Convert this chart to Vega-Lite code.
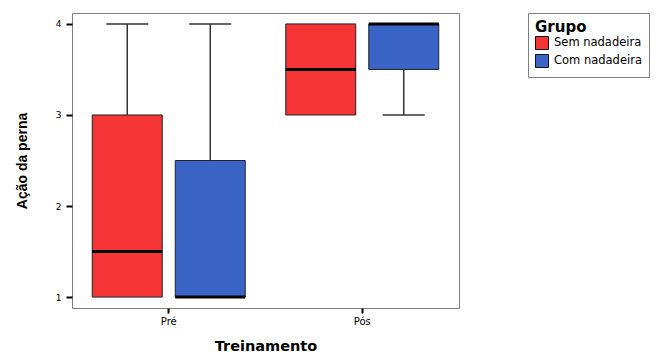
{
  "$schema": "https://vega.github.io/schema/vega-lite/v6.json",
  "width": 387,
  "height": 295,
  "autosize": {"type": "none"},
  "padding": {"left": 72, "top": 13, "right": 202, "bottom": 45},
  "background": "white",
  "data": {
    "values": [
      {"treinamento": "Pré", "grupo": "Sem nadadeira", "min": 1, "q1": 1, "median": 1.5, "q3": 3, "max": 4},
      {"treinamento": "Pré", "grupo": "Com nadadeira", "min": 1, "q1": 1, "median": 1, "q3": 2.5, "max": 4},
      {"treinamento": "Pós", "grupo": "Sem nadadeira", "min": 3, "q1": 3, "median": 3.5, "q3": 4, "max": 4},
      {"treinamento": "Pós", "grupo": "Com nadadeira", "min": 3, "q1": 3.5, "median": 4, "q3": 4, "max": 4}
    ]
  },
  "encoding": {
    "x": {
      "field": "treinamento",
      "type": "nominal",
      "sort": ["Pré", "Pós"],
      "scale": {"paddingInner": 0, "paddingOuter": 0},
      "axis": {
        "title": "Treinamento",
        "labelAngle": 0,
        "labelFont": "DejaVu Sans",
        "labelFontSize": 10,
        "labelColor": "black",
        "labelPadding": 3,
        "tickSize": 5,
        "tickWidth": 2,
        "tickColor": "black",
        "titleFont": "DejaVu Sans",
        "titleFontWeight": "bold",
        "titleFontSize": 14.5,
        "titleColor": "black",
        "titlePadding": 13
      }
    },
    "xOffset": {
      "field": "grupo",
      "type": "nominal",
      "sort": ["Sem nadadeira", "Com nadadeira"],
      "scale": {"paddingInner": 0.157, "paddingOuter": 0.244}
    }
  },
  "layer": [
    {
      "mark": {"type": "bar", "stroke": "#222222", "strokeWidth": 1, "opacity": 1},
      "encoding": {
        "y": {
          "field": "q1",
          "type": "quantitative",
          "scale": {"domain": [0.88, 4.12], "nice": false, "zero": false},
          "axis": {
            "title": "Ação da perna",
            "values": [1, 2, 3, 4],
            "format": "d",
            "grid": false,
            "labelFont": "DejaVu Sans",
            "labelFontSize": 9,
            "labelColor": "black",
            "labelPadding": 5,
            "tickSize": 6,
            "tickWidth": 2,
            "tickColor": "black",
            "titleFont": "Liberation Sans",
            "titleFontWeight": "bold",
            "titleFontSize": 14,
            "titleColor": "black",
            "titlePadding": 26
          }
        },
        "y2": {"field": "q3"},
        "color": {
          "field": "grupo",
          "type": "nominal",
          "scale": {"domain": ["Sem nadadeira", "Com nadadeira"], "range": ["#f53535", "#3a64c6"]},
          "legend": {
            "title": "Grupo",
            "orient": "none",
            "legendX": 456,
            "legendY": 0,
            "symbolType": "square",
            "symbolSize": 169,
            "symbolStrokeColor": "#111111",
            "symbolStrokeWidth": 1,
            "symbolOpacity": 1,
            "labelFont": "DejaVu Sans",
            "labelFontSize": 11.5,
            "labelColor": "black",
            "labelOffset": 5,
            "rowPadding": 0,
            "titleFont": "DejaVu Sans",
            "titleFontWeight": "bold",
            "titleFontSize": 15,
            "titleColor": "black",
            "titlePadding": 1,
            "padding": 7,
            "strokeColor": "#808080",
            "fillColor": "white"
          }
        }
      }
    },
    {
      "mark": {"type": "rule", "color": "#333333", "strokeWidth": 1.5},
      "encoding": {
        "y": {"field": "q3", "type": "quantitative"},
        "y2": {"field": "max"}
      }
    },
    {
      "mark": {"type": "rule", "color": "#333333", "strokeWidth": 1.5},
      "encoding": {
        "y": {"field": "min", "type": "quantitative"},
        "y2": {"field": "q1"}
      }
    },
    {
      "transform": [{"filter": "datum.max > datum.q3"}],
      "mark": {"type": "tick", "color": "#333333", "size": 42, "thickness": 1.5, "opacity": 1},
      "encoding": {
        "y": {"field": "max", "type": "quantitative"}
      }
    },
    {
      "transform": [{"filter": "datum.min < datum.q1"}],
      "mark": {"type": "tick", "color": "#333333", "size": 42, "thickness": 1.5, "opacity": 1},
      "encoding": {
        "y": {"field": "min", "type": "quantitative"}
      }
    },
    {
      "mark": {"type": "tick", "color": "black", "size": 70, "thickness": 3, "opacity": 1},
      "encoding": {
        "y": {"field": "median", "type": "quantitative"}
      }
    }
  ],
  "config": {
    "view": {"stroke": "#808080", "strokeWidth": 1},
    "axis": {"domain": false}
  }
}
